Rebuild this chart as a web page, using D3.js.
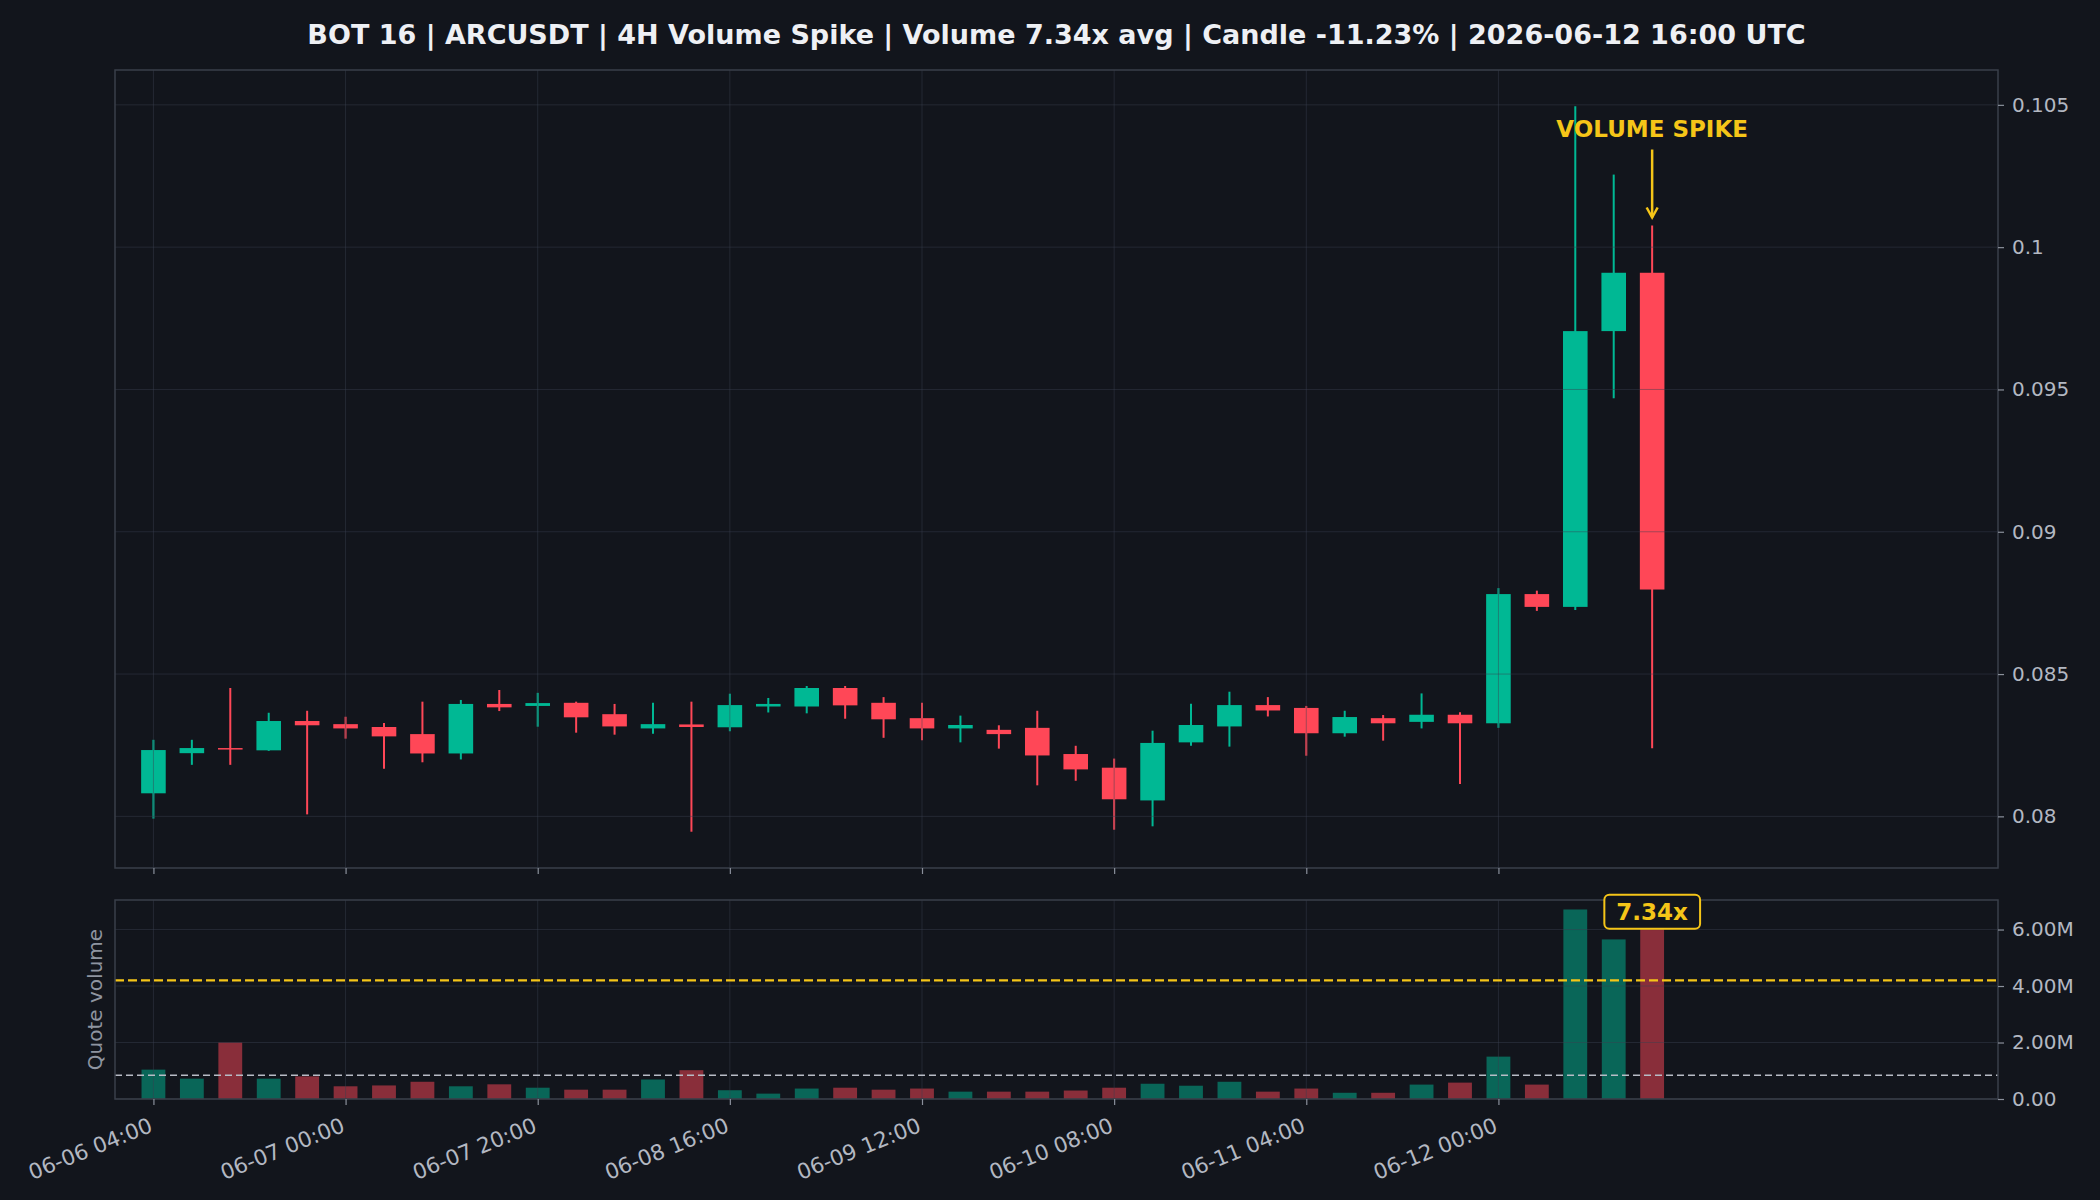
<!DOCTYPE html>
<html>
<head>
<meta charset="utf-8">
<script src="https://cdn.jsdelivr.net/npm/d3@7/dist/d3.min.js"></script>
<style>
  html, body { margin: 0; padding: 0; background: #12151c; }
  svg { display: block; font-family: "DejaVu Sans", sans-serif; }
</style>
</head>
<body>
<div id="chart"></div>
<script>
// ---- data (4H candles, 06-06 04:00 -> 06-12 16:00) ----
const opens  = [0.08081,0.08222,0.08240,0.08232,0.08335,0.08324,0.08314,0.08289,0.08221,0.08395,
                0.08388,0.08399,0.08359,0.08309,0.08323,0.08313,0.08386,0.08386,0.08451,0.08399,
                0.08345,0.08309,0.08304,0.08311,0.08219,0.08171,0.08056,0.08260,0.08316,0.08391,
                0.08381,0.08292,0.08345,0.08332,0.08357,0.08327,0.08781,0.08736,0.09705,0.09910];
const highs  = [0.08269,0.08269,0.08451,0.08364,0.08371,0.08350,0.08328,0.08403,0.08409,0.08444,
                0.08434,0.08403,0.08395,0.08399,0.08403,0.08431,0.08416,0.08458,0.08458,0.08419,
                0.08399,0.08354,0.08320,0.08371,0.08248,0.08203,0.08301,0.08396,0.08438,0.08419,
                0.08388,0.08371,0.08356,0.08432,0.08366,0.08802,0.08793,0.10495,0.10255,0.10076];
const lows   = [0.07992,0.08181,0.08181,0.08230,0.08007,0.08273,0.08167,0.08190,0.08200,0.08370,
                0.08315,0.08294,0.08287,0.08290,0.07946,0.08299,0.08365,0.08362,0.08343,0.08276,
                0.08267,0.08260,0.08238,0.08109,0.08125,0.07953,0.07965,0.08248,0.08245,0.08351,
                0.08213,0.08280,0.08266,0.08309,0.08114,0.08311,0.08722,0.08725,0.09469,0.08239];
const closes = [0.08233,0.08240,0.08236,0.08335,0.08320,0.08309,0.08281,0.08221,0.08395,0.08383,
                0.08398,0.08348,0.08316,0.08324,0.08314,0.08391,0.08395,0.08451,0.08390,0.08341,
                0.08309,0.08321,0.08289,0.08214,0.08165,0.08060,0.08258,0.08321,0.08391,0.08372,
                0.08292,0.08349,0.08327,0.08357,0.08327,0.08781,0.08736,0.09705,0.09910,0.08797];
// quote volume, millions
const volumes = [1.04,0.72,2.00,0.72,0.80,0.45,0.48,0.61,0.45,0.52,
                 0.40,0.33,0.33,0.69,1.02,0.31,0.19,0.37,0.40,0.33,
                 0.37,0.26,0.26,0.26,0.30,0.40,0.54,0.47,0.61,0.26,
                 0.37,0.22,0.22,0.51,0.58,1.50,0.51,6.71,5.65,6.17];

const avgVolume = 0.84;        // M
const thresholdVolume = 4.20;  // M (5x avg)
const spikeRatio = "7.34x";

const xTickIndex  = [0, 5, 10, 15, 20, 25, 30, 35];
const xTickLabels = ["06-06 04:00","06-07 00:00","06-07 20:00","06-08 16:00",
                     "06-09 12:00","06-10 08:00","06-11 04:00","06-12 00:00"];
const priceTicks  = [0.08, 0.085, 0.09, 0.095, 0.1, 0.105];
const volumeTicks = [0, 2, 4, 6];

const title = "BOT 16 | ARCUSDT | 4H Volume Spike | Volume 7.34x avg | Candle -11.23% | 2026-06-12 16:00 UTC";

// ---- styling ----
const BG = "#12151c";
const UP = "#00b894", DOWN = "#ff4757";
const GOLD = "#f5c518";
const SPINE = "#3a3f4a";
const GRID = "#3a4050";
const TICK_TXT = "#b3b8c2";

const W = 2100, H = 1200;
const L = 115, R = 1998;
const main = {top: 70, bottom: 868};
const vol  = {top: 900, bottom: 1099};

const candles = opens.map((o, i) => ({i, o, h: highs[i], l: lows[i], c: closes[i], v: volumes[i], up: closes[i] >= o}));

const svg = d3.select("#chart").append("svg").attr("width", W).attr("height", H);
svg.append("rect").attr("width", W).attr("height", H).attr("fill", BG);

const x = d3.scaleLinear().domain([-1, 48]).range([L, R]);
const step = x(1) - x(0);

const pMin = d3.min(lows), pMax = d3.max(highs), pad = (pMax - pMin) * 0.05;
const y = d3.scaleLinear().domain([pMin - pad, pMax + pad]).range([main.bottom, main.top]);
const yv = d3.scaleLinear().domain([0, d3.max(volumes) * 1.05]).range([vol.bottom, vol.top]);

// title
svg.append("text")
  .attr("x", (L + R) / 2).attr("y", 44)
  .attr("text-anchor", "middle")
  .attr("font-size", 27).attr("font-weight", "bold")
  .attr("fill", "#eef0f4")
  .text(title);

// ---- price panel ----
const gm = svg.append("g");

const cg = gm.append("g").selectAll("g").data(candles).join("g");
cg.append("line")
  .attr("x1", d => x(d.i)).attr("x2", d => x(d.i))
  .attr("y1", d => y(d.h)).attr("y2", d => y(d.l))
  .attr("stroke", d => d.up ? UP : DOWN).attr("stroke-width", 2);
cg.append("rect")
  .attr("x", d => x(d.i) - step * 0.32)
  .attr("width", step * 0.64)
  .attr("y", d => y(Math.max(d.o, d.c)))
  .attr("height", d => Math.max(1.5, Math.abs(y(d.o) - y(d.c))))
  .attr("fill", d => d.up ? UP : DOWN);

// grid (drawn over the candles, faint)
const gridM = gm.append("g").attr("stroke", GRID).attr("stroke-opacity", 0.45).attr("stroke-width", 1);
gridM.selectAll(".gx").data(xTickIndex).join("line")
  .attr("x1", d => x(d)).attr("x2", d => x(d)).attr("y1", main.top).attr("y2", main.bottom);
gridM.selectAll(".gy").data(priceTicks).join("line")
  .attr("x1", L).attr("x2", R).attr("y1", d => y(d)).attr("y2", d => y(d));

gm.append("rect").attr("x", L).attr("y", main.top).attr("width", R - L).attr("height", main.bottom - main.top)
  .attr("fill", "none").attr("stroke", SPINE).attr("stroke-width", 1.5);

const yAxis = gm.append("g").attr("transform", `translate(${R},0)`)
  .call(d3.axisRight(y).tickValues(priceTicks).tickSize(6).tickPadding(8).tickFormat(d => String(+d.toFixed(3))));
const xAxisM = gm.append("g").attr("transform", `translate(0,${main.bottom})`)
  .call(d3.axisBottom(x).tickValues(xTickIndex).tickSize(6).tickFormat(""));

// annotation
const spike = candles[candles.length - 1];
const tipY = y(spike.h) - 8;
gm.append("line")
  .attr("x1", x(spike.i)).attr("x2", x(spike.i))
  .attr("y1", tipY - 68).attr("y2", tipY)
  .attr("stroke", GOLD).attr("stroke-width", 2.5);
gm.append("path")
  .attr("d", `M${x(spike.i) - 5.5},${tipY - 10} L${x(spike.i)},${tipY} L${x(spike.i) + 5.5},${tipY - 10}`)
  .attr("fill", "none").attr("stroke", GOLD).attr("stroke-width", 2.5);
gm.append("text")
  .attr("x", x(spike.i)).attr("y", tipY - 81)
  .attr("text-anchor", "middle").attr("font-size", 23).attr("font-weight", "bold")
  .attr("fill", GOLD).text("VOLUME SPIKE");

// ---- volume panel ----
const gv = svg.append("g");
gv.append("g").selectAll("rect").data(candles).join("rect")
  .attr("x", d => x(d.i) - step * 0.31)
  .attr("width", step * 0.62)
  .attr("y", d => yv(d.v))
  .attr("height", d => yv(0) - yv(d.v))
  .attr("fill", d => d.up ? UP : DOWN)
  .attr("fill-opacity", 0.5);

const gridV = gv.append("g").attr("stroke", GRID).attr("stroke-opacity", 0.45).attr("stroke-width", 1);
gridV.selectAll(".gx").data(xTickIndex).join("line")
  .attr("x1", d => x(d)).attr("x2", d => x(d)).attr("y1", vol.top).attr("y2", vol.bottom);
gridV.selectAll(".gy").data(volumeTicks).join("line")
  .attr("x1", L).attr("x2", R).attr("y1", d => yv(d)).attr("y2", d => yv(d));

gv.append("line").attr("x1", L).attr("x2", R).attr("y1", yv(avgVolume)).attr("y2", yv(avgVolume))
  .attr("stroke", "#b8bcc6").attr("stroke-width", 1.6).attr("stroke-dasharray", "7,4");
gv.append("line").attr("x1", L).attr("x2", R).attr("y1", yv(thresholdVolume)).attr("y2", yv(thresholdVolume))
  .attr("stroke", GOLD).attr("stroke-width", 2.2).attr("stroke-dasharray", "9,4");

gv.append("rect").attr("x", L).attr("y", vol.top).attr("width", R - L).attr("height", vol.bottom - vol.top)
  .attr("fill", "none").attr("stroke", SPINE).attr("stroke-width", 1.5);

const yvAxis = gv.append("g").attr("transform", `translate(${R},0)`)
  .call(d3.axisRight(yv).tickValues(volumeTicks).tickSize(6).tickPadding(8)
    .tickFormat(d => d === 0 ? "0.00" : d.toFixed(2) + "M"));
const xAxisV = gv.append("g").attr("transform", `translate(0,${vol.bottom})`)
  .call(d3.axisBottom(x).tickValues(xTickIndex).tickSize(6).tickFormat((d, i) => xTickLabels[i]));

// ratio label
const lbl = gv.append("g").attr("transform", `translate(${x(spike.i)},${yv(spike.v) - 13})`);
const lblText = lbl.append("text")
  .attr("text-anchor", "middle").attr("dy", "0.36em")
  .attr("font-size", 23).attr("font-weight", "bold").attr("fill", GOLD)
  .text(spikeRatio);
const bb = lblText.node().getBBox();
lbl.insert("rect", "text")
  .attr("x", bb.x - 12).attr("y", -17).attr("width", bb.width + 24).attr("height", 34)
  .attr("rx", 5).attr("fill", BG).attr("stroke", GOLD).attr("stroke-width", 2);

svg.append("text")
  .attr("transform", `translate(95,${(vol.top + vol.bottom) / 2}) rotate(-90)`)
  .attr("text-anchor", "middle").attr("dy", "0.35em")
  .attr("font-size", 20).attr("fill", "#8e94a0")
  .text("Quote volume");

// axis styling
[yAxis, xAxisM, yvAxis, xAxisV].forEach(a => {
  a.select(".domain").remove();
  a.selectAll(".tick line").attr("stroke", "#8a909b").attr("stroke-width", 1.2);
  a.selectAll(".tick text").attr("fill", TICK_TXT).attr("font-size", 20)
    .attr("font-family", "DejaVu Sans, sans-serif");
});

xAxisV.selectAll(".tick text")
  .attr("text-anchor", "end")
  .attr("dy", null).attr("y", 0).attr("x", 0)
  .attr("font-size", 21.5)
  .attr("transform", "translate(0,32) rotate(-22)");
</script>
</body>
</html>
